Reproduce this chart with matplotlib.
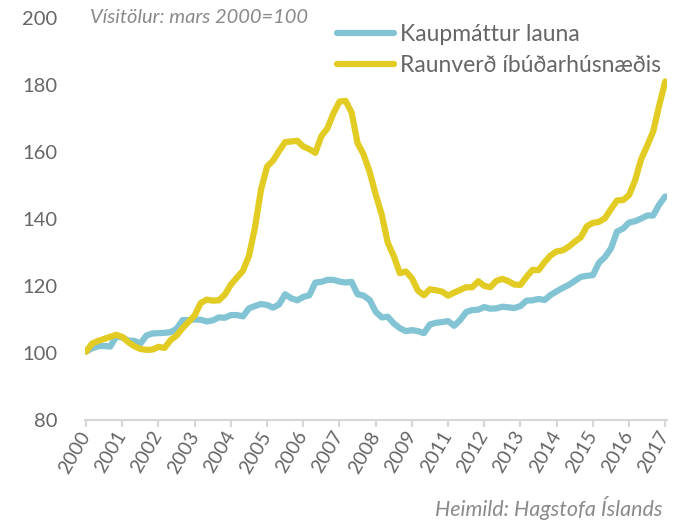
import numpy as np
import matplotlib
matplotlib.use("Agg")
import matplotlib.pyplot as plt

plt.rcParams['font.family'] = ['Lato', 'DejaVu Sans']

# tick labels as printed on the original chart (2010 is missing there)
year_labels = ['2000', '2001', '2002', '2003', '2004', '2005', '2006', '2007', '2008',
               '2009', '2011', '2012', '2013', '2014', '2015', '2016', '2017']

# values, 6 readings per tick interval
kaupmattur = [
    100.4, 101.4, 102.0, 102.1, 101.9, 104.9,
    104.6, 103.7, 103.6, 102.8, 105.2, 105.8,
    105.9, 106.0, 106.2, 107.2, 109.8, 109.8,
    110.0, 109.9, 109.4, 109.7, 110.6, 110.5,
    111.3, 111.3, 110.9, 113.3, 114.0, 114.6,
    114.3, 113.5, 114.5, 117.5, 116.3, 115.7,
    116.7, 117.2, 121.0, 121.2, 121.8, 121.8,
    121.3, 121.0, 121.2, 117.5, 117.1, 115.8,
    112.3, 110.6, 110.8, 108.8, 107.4, 106.5,
    106.8, 106.5, 105.9, 108.5, 109.0, 109.2,
    109.5, 108.1, 109.8, 112.2, 112.8, 112.9,
    113.7, 113.2, 113.3, 113.8, 113.6, 113.4,
    114.0, 115.6, 115.7, 116.1, 115.8, 117.3,
    118.4, 119.4, 120.3, 121.5, 122.7, 123.0,
    123.2, 126.9, 128.6, 131.2, 136.2, 137.1,
    138.9, 139.3, 140.1, 141.0, 141.0, 144.3,
    146.7,
]

raunverd = [
    100.4, 102.8, 103.6, 104.2, 104.8, 105.4,
    104.8, 103.2, 102.0, 101.2, 100.9, 101.0,
    101.8, 101.5, 103.8, 105.2, 107.4, 109.3,
    111.2, 114.9, 115.9, 115.6, 115.7, 117.4,
    120.4, 122.5, 124.5, 129.0, 137.5, 148.8,
    155.6, 157.4, 160.3, 162.9, 163.1, 163.3,
    161.6, 160.8, 159.7, 164.7, 167.0, 171.5,
    175.0, 175.2, 171.8, 162.6, 159.2, 154.0,
    147.3, 141.3, 132.9, 128.9, 123.8, 124.3,
    122.3, 118.6, 117.2, 119.0, 118.7, 118.3,
    117.1, 118.0, 118.8, 119.6, 119.6, 121.4,
    120.0, 119.6, 121.5, 122.1, 121.4, 120.4,
    120.3, 122.7, 124.8, 124.7, 127.1, 129.1,
    130.3, 130.6, 131.7, 133.2, 134.5, 137.8,
    138.8, 139.1, 140.2, 142.9, 145.5, 145.6,
    147.1, 151.5, 157.8, 161.8, 166.1, 173.9,
    181.0,
]

blue = '#82c4d4'
yellow = '#e2cc23'
grey = '#666666'

x = np.arange(len(kaupmattur)) / 6.0

fig = plt.figure(figsize=(6.8, 5.23), dpi=100)
ax = fig.add_axes([0.125, 0.197, 0.856, 0.769])

ax.plot(x, kaupmattur, color=blue, lw=4.5, solid_capstyle='round', label='Kaupmáttur launa')
ax.plot(x, raunverd, color=yellow, lw=4.5, solid_capstyle='round', label='Raunverð íbúðarhúsnæðis')

ax.set_xlim(-0.03, 16.05)
ax.set_ylim(80, 200)
ax.set_yticks(np.arange(80, 201, 20))
ax.set_xticks(np.arange(len(year_labels)))
ax.set_xticklabels(year_labels, rotation=60, ha='right', va='center', rotation_mode='anchor')

for side in ['top', 'right', 'left']:
    ax.spines[side].set_visible(False)
ax.spines['bottom'].set_color('#d6d6d6')
ax.spines['bottom'].set_linewidth(1.5)
ax.tick_params(axis='x', colors='#d6d6d6', length=5, width=1.5, pad=4,
               labelcolor=grey, labelsize=14)
ax.tick_params(axis='y', length=0, pad=20, labelcolor=grey, labelsize=14.5)

ax.text(0.008, 1.0, 'Vísitölur: mars 2000=100', transform=ax.transAxes,
        fontsize=14.5, style='italic', color='#8a8a8a', ha='left', va='center')
fig.text(0.974, 0.028, 'Heimild: Hagstofa Íslands', fontsize=15.5, style='italic',
         color='#8a8a8a', ha='right', va='center')

leg = ax.legend(loc='upper left', bbox_to_anchor=(0.433, 0.985), frameon=False,
                fontsize=16.5, handlelength=2.5, handletextpad=0.25, labelspacing=0.45,
                borderaxespad=0, borderpad=0)
for t in leg.get_texts():
    t.set_color(grey)

fig.savefig('out.png', dpi=100)
